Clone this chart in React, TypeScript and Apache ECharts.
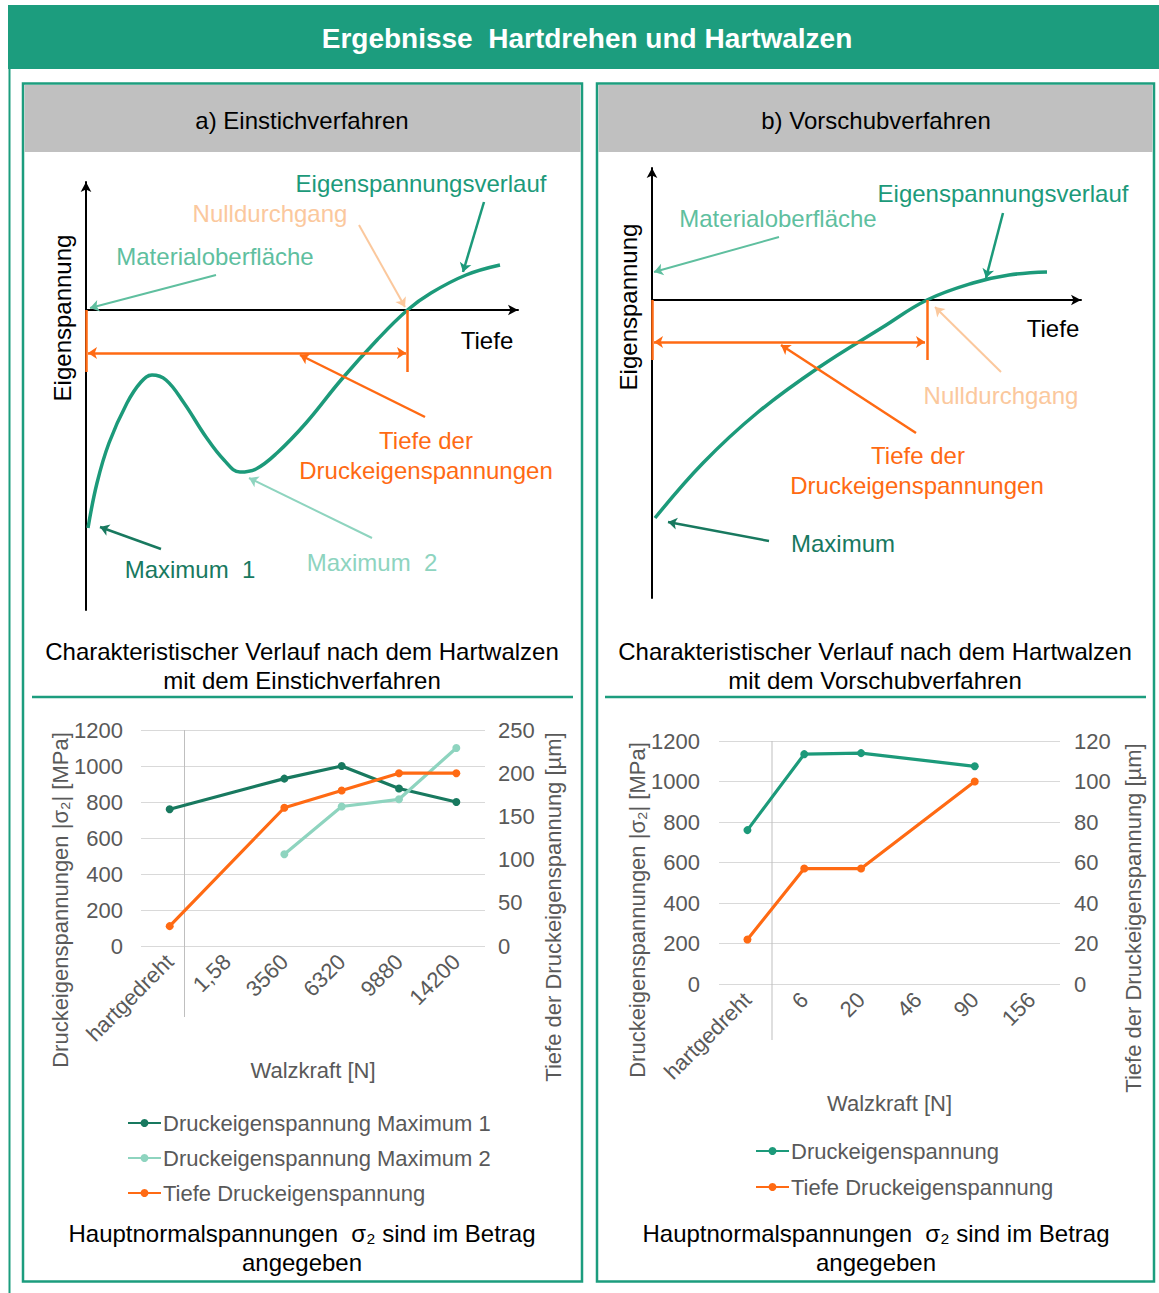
import React, { useEffect, useRef } from "react";
import * as echarts from "echarts";

// ---------- data ----------
// bottom-left (Einstichverfahren)
const catsA = ["hartgedreht", "1,58", "3560", "6320", "9880", "14200"];
const max1A = [760, null, 930, 1000, 875, 800];
const max2A = [null, null, 510, 775, 815, 1100];
const tiefeA = [23, null, 160, 180, 200, 200];
const leftTicksA = { min: 0, max: 1200, interval: 200 };
const rightTicksA = { min: 0, max: 250, interval: 50 };

// bottom-right (Vorschubverfahren)
const catsB = ["hartgedreht", "6", "20", "46", "90", "156"];
const druckB = [760, 1135, 1140, null, 1075, null];
const tiefeB = [22, 57, 57, null, 100, null];
const leftTicksB = { min: 0, max: 1200, interval: 200 };
const rightTicksB = { min: 0, max: 120, interval: 20 };

// schematic curves (abstract units: x = depth, y = residual stress)
const curveA: [number, number][] = [
  [2, -218], [11, -173], [23, -133], [41, -93], [55, -72], [66, -65], [80, -70],
  [98, -93], [120, -127], [138, -150], [154, -162], [170, -159], [191, -143],
  [220, -113], [255, -70], [291, -30], [321.5, 0], [345, 17], [380, 35], [414, 45],
];
const curveB: [number, number][] = [
  [3, -218], [51, -163], [105, -113], [166, -68], [231, -27], [275, 0],
  [321, 17], [357, 25], [395, 28],
];

const FONT = "'Liberation Sans', Arial, sans-serif";
const GREEN = "#1c9d7e";
const CURVE = "#1c9a7a";
const DARK = "#18795f";
const LIGHT = "#8ed4bf";
const MAT = "#5fbf9f";
const ORANGE = "#ff6a13";
const LORANGE = "#fbc89d";
const GRAY = "#595959";
const BIG = 24;
const SMALL = 22;

const txt = (x: number, y: number, text: string, fill: string, size = BIG, extra: any = {}) => ({
  type: "text",
  x,
  y,
  silent: true,
  z: 20,
  style: { text, fill, fontSize: size, fontFamily: FONT, align: "center", verticalAlign: "middle", ...extra },
});

const seg = (x1: number, y1: number, x2: number, y2: number, color: string, width = 2, s1 = "none", s2 = "arrow") => [
  { coord: [x1, y1], symbol: s1, lineStyle: { color, width, type: "solid" } },
  { coord: [x2, y2], symbol: s2, lineStyle: { color, width, type: "solid" } },
];

function schematicAxes(grid: number, xmax: number, ymin: number, ymax: number) {
  const axisLine = {
    show: true,
    onZero: true,
    symbol: ["none", "arrow"],
    symbolSize: [8, 10],
    lineStyle: { color: "#000", width: 2 },
  };
  return {
    x: {
      gridIndex: grid, type: "value", min: 0, max: xmax,
      axisLine, axisTick: { show: false }, axisLabel: { show: false }, splitLine: { show: false },
    },
    y: {
      gridIndex: grid, type: "value", min: ymin, max: ymax,
      axisLine, axisTick: { show: false }, axisLabel: { show: false }, splitLine: { show: false },
    },
  };
}

export default function App() {
  const ref = useRef<HTMLDivElement>(null);
  useEffect(() => {
    if (!ref.current) return;
    const chart = echarts.init(ref.current, undefined, { renderer: "svg" });
    const sA = schematicAxes(0, 432, -300, 128);
    const sB = schematicAxes(1, 429, -298, 132);

    const tickLabel = { color: GRAY, fontSize: SMALL, fontFamily: FONT };
    const plain = (v: number) => String(v);

    const bottomX = (grid: number, cats: string[], nameGap: number) => ({
      gridIndex: grid,
      type: "category",
      data: cats,
      boundaryGap: true,
      axisLine: { show: false },
      axisTick: { show: false },
      axisLabel: { ...tickLabel, rotate: 45, margin: 12, interval: 0 },
      name: "Walzkraft [N]",
      nameLocation: "middle",
      nameGap,
      nameTextStyle: { color: GRAY, fontSize: SMALL, fontFamily: FONT },
    });
    const leftY = (grid: number, t: any, margin: number) => ({
      gridIndex: grid, type: "value", ...t, position: "left",
      axisLine: { show: false }, axisTick: { show: false },
      axisLabel: { ...tickLabel, margin, formatter: plain },
      splitLine: { show: true, lineStyle: { color: "#d9d9d9", width: 1 } },
    });
    const rightY = (grid: number, t: any, margin: number) => ({
      gridIndex: grid, type: "value", ...t, position: "right",
      axisLine: { show: false }, axisTick: { show: false },
      axisLabel: { ...tickLabel, margin, formatter: plain },
      splitLine: { show: false },
    });
    const dataLine = (name: string, x: number, y: number, data: any[], color: string) => ({
      name, type: "line", xAxisIndex: x, yAxisIndex: y, data, connectNulls: true,
      symbol: "circle", symbolSize: 8, showAllSymbol: true,
      lineStyle: { color, width: 3.2 }, itemStyle: { color }, z: 5,
    });

    const graphics: any[] = [
      // frame
      { type: "rect", shape: { x: 8, y: 5, width: 1151, height: 64 }, style: { fill: GREEN }, z: 1, silent: true },
      { type: "line", shape: { x1: 9.5, y1: 69, x2: 9.5, y2: 1293 }, style: { stroke: GREEN, lineWidth: 2 }, z: 1, silent: true },
      { type: "rect", shape: { x: 23, y: 83.5, width: 559, height: 1198 }, style: { fill: "none", stroke: GREEN, lineWidth: 2.5 }, z: 1, silent: true },
      { type: "rect", shape: { x: 597, y: 83.5, width: 557, height: 1198 }, style: { fill: "none", stroke: GREEN, lineWidth: 2.5 }, z: 1, silent: true },
      { type: "rect", shape: { x: 24.5, y: 85, width: 556, height: 67 }, style: { fill: "#c0c0c0" }, z: 1, silent: true },
      { type: "rect", shape: { x: 598.5, y: 85, width: 554, height: 67 }, style: { fill: "#c0c0c0" }, z: 1, silent: true },
      { type: "line", shape: { x1: 32, y1: 697, x2: 573, y2: 697 }, style: { stroke: GREEN, lineWidth: 2.5 }, z: 1, silent: true },
      { type: "line", shape: { x1: 605, y1: 697, x2: 1146, y2: 697 }, style: { stroke: GREEN, lineWidth: 2.5 }, z: 1, silent: true },
      // vertical gray axis lines in data charts
      { type: "line", shape: { x1: 184.5, y1: 730, x2: 184.5, y2: 1017 }, style: { stroke: "#bfbfbf", lineWidth: 1 }, z: 1, silent: true },
      { type: "line", shape: { x1: 772, y1: 741, x2: 772, y2: 1040 }, style: { stroke: "#bfbfbf", lineWidth: 1 }, z: 1, silent: true },

      txt(587, 38, "Ergebnisse  Hartdrehen und Hartwalzen", "#ffffff", 28, { fontWeight: "bold" }),
      txt(302, 120, "a) Einstichverfahren", "#000"),
      txt(876, 120, "b) Vorschubverfahren", "#000"),

      // schematic a
      txt(421, 183, "Eigenspannungsverlauf", CURVE),
      txt(270, 213, "Nulldurchgang", LORANGE),
      txt(215, 256, "Materialoberfläche", MAT),
      txt(487, 340, "Tiefe", "#000"),
      txt(426, 440, "Tiefe der", ORANGE),
      txt(426, 470, "Druckeigenspannungen", ORANGE),
      txt(190, 569, "Maximum  1", DARK),
      txt(372, 562, "Maximum  2", LIGHT),
      { ...txt(62, 318, "Eigenspannung", "#000"), rotation: Math.PI / 2 },

      // schematic b
      txt(1003, 193, "Eigenspannungsverlauf", CURVE),
      txt(778, 218, "Materialoberfläche", MAT),
      txt(1053, 328, "Tiefe", "#000"),
      txt(1001, 395, "Nulldurchgang", LORANGE),
      txt(918, 455, "Tiefe der", ORANGE),
      txt(917, 485, "Druckeigenspannungen", ORANGE),
      txt(843, 543, "Maximum", DARK),
      { ...txt(628, 307, "Eigenspannung", "#000"), rotation: Math.PI / 2 },

      // captions
      txt(302, 651, "Charakteristischer Verlauf nach dem Hartwalzen", "#000"),
      txt(302, 680, "mit dem Einstichverfahren", "#000"),
      txt(875, 651, "Charakteristischer Verlauf nach dem Hartwalzen", "#000"),
      txt(875, 680, "mit dem Vorschubverfahren", "#000"),

      // axis titles (rotated)
      { ...txt(60, 900, "Druckeigenspannungen |σ₂| [MPa]", GRAY, SMALL), rotation: Math.PI / 2 },
      { ...txt(553, 907, "Tiefe der Druckeigenspannung [µm]", GRAY, SMALL), rotation: Math.PI / 2 },
      { ...txt(637, 910, "Druckeigenspannungen |σ₂| [MPa]", GRAY, SMALL), rotation: Math.PI / 2 },
      { ...txt(1133, 918, "Tiefe der Druckeigenspannung [µm]", GRAY, SMALL), rotation: Math.PI / 2 },

      // bottom captions
      txt(302, 1233, "Hauptnormalspannungen  σ₂ sind im Betrag", "#000"),
      txt(302, 1262, "angegeben", "#000"),
      txt(876, 1233, "Hauptnormalspannungen  σ₂ sind im Betrag", "#000"),
      txt(876, 1262, "angegeben", "#000"),
    ];

    const legendText = { color: GRAY, fontSize: SMALL, fontFamily: FONT, padding: [0, 0, 0, -3] };

    const option: any = {
      animation: false,
      backgroundColor: "#ffffff",
      textStyle: { fontFamily: FONT },
      grid: [
        { left: 86, top: 182, width: 432, height: 428 },
        { left: 652, top: 168, width: 429, height: 430 },
        { left: 141, top: 730, width: 344, height: 216 },
        { left: 719, top: 741, width: 341, height: 243 },
      ],
      xAxis: [sA.x, sB.x, bottomX(2, catsA, 113), bottomX(3, catsB, 108)],
      yAxis: [
        sA.y, sB.y,
        leftY(2, leftTicksA, 18), rightY(2, rightTicksA, 13),
        leftY(3, leftTicksB, 19), rightY(3, rightTicksB, 14),
      ],
      legend: [
        {
          data: ["Druckeigenspannung Maximum 1", "Druckeigenspannung Maximum 2", "Tiefe Druckeigenspannung"],
          orient: "vertical", left: 127, top: 1112, padding: 0, itemWidth: 33, itemHeight: 10, itemGap: 13,
          textStyle: legendText, selectedMode: false,
        },
        {
          data: ["Druckeigenspannung", "Tiefe Druckeigenspannung"],
          orient: "vertical", left: 755, top: 1140, padding: 0, itemWidth: 33, itemHeight: 10, itemGap: 14,
          textStyle: legendText, selectedMode: false,
        },
      ],
      graphic: { elements: graphics },
      series: [
        {
          type: "line", xAxisIndex: 0, yAxisIndex: 0, data: curveA, smooth: 0.4,
          symbol: "none", lineStyle: { color: CURVE, width: 3.5 }, silent: true, z: 4,
          markLine: {
            silent: true, symbol: ["none", "arrow"], symbolSize: 9, label: { show: false },
            data: [
              seg(0, 0, 0, -62, ORANGE, 2.5, "none", "none"),
              seg(321.5, 0, 321.5, -62, ORANGE, 2.5, "none", "none"),
              seg(2, -43, 320, -43, ORANGE, 2.5, "arrow", "arrow"),
              seg(339, -107, 214, -45, ORANGE, 2.5),
              seg(398, 108, 377, 38, CURVE, 2.5),
              seg(273, 85, 319, 3, LORANGE, 2),
              seg(130, 35, 4, 2, MAT, 2),
              seg(75, -239, 14, -217, DARK, 2.5),
              seg(286, -228, 163, -168, LIGHT, 2),
            ],
          },
        },
        {
          type: "line", xAxisIndex: 1, yAxisIndex: 1, data: curveB, smooth: 0.4,
          symbol: "none", lineStyle: { color: CURVE, width: 3.5 }, silent: true, z: 4,
          markLine: {
            silent: true, symbol: ["none", "arrow"], symbolSize: 9, label: { show: false },
            data: [
              seg(0, 0, 0, -60, ORANGE, 2.5, "none", "none"),
              seg(275, 0, 275, -60, ORANGE, 2.5, "none", "none"),
              seg(2, -42, 273, -42, ORANGE, 2.5, "arrow", "arrow"),
              seg(264, -133, 129, -45, ORANGE, 2.5),
              seg(351, 87, 334, 22, CURVE, 2.5),
              seg(127, 63, 2, 28, MAT, 2),
              seg(349, -72, 283, -7, LORANGE, 2),
              seg(117, -241, 16, -222, DARK, 2.5),
            ],
          },
        },
        dataLine("Druckeigenspannung Maximum 1", 2, 2, max1A, DARK),
        dataLine("Druckeigenspannung Maximum 2", 2, 2, max2A, LIGHT),
        dataLine("Tiefe Druckeigenspannung", 2, 3, tiefeA, ORANGE),
        dataLine("Druckeigenspannung", 3, 4, druckB, CURVE),
        dataLine("Tiefe Druckeigenspannung", 3, 5, tiefeB, ORANGE),
      ],
    };
    chart.setOption(option);
    return () => chart.dispose();
  }, []);
  return (
    <div
      ref={ref}
      style={{ position: "absolute", left: 0, top: 0, width: 1159, height: 1293, background: "#fff" }}
    />
  );
}
